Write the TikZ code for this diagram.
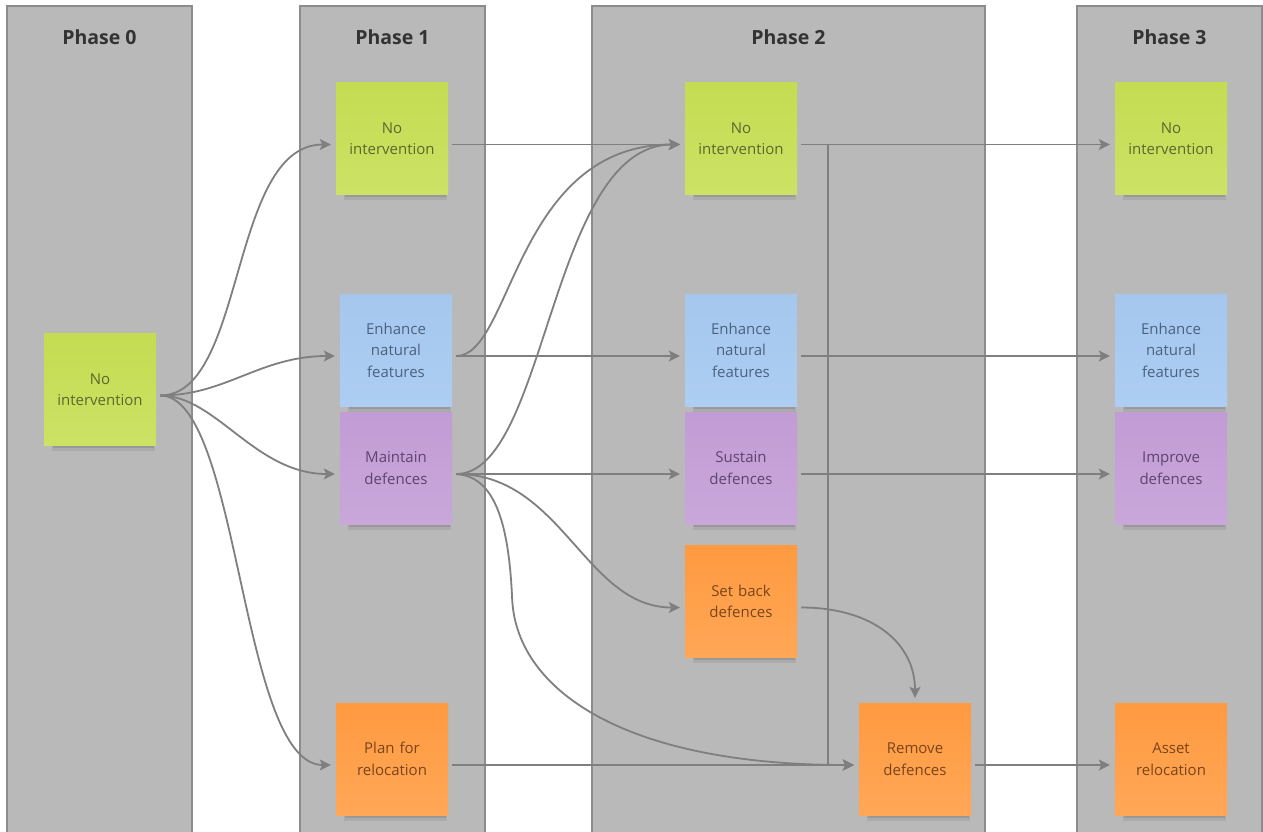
\documentclass[tikz,border=0pt]{standalone}
\usepackage{fontspec}
\setmainfont{Open Sans}
\usetikzlibrary{arrows.meta,shadows}

\definecolor{panelfill}{HTML}{B9B9B9}
\definecolor{paneldraw}{HTML}{8C8C8C}
\definecolor{wire}{HTML}{7F7F7F}
\definecolor{headtext}{HTML}{333333}
\definecolor{limeA}{HTML}{C4DC52}
\definecolor{limeB}{HTML}{CCE265}
\definecolor{limeT}{HTML}{5C672E}
\definecolor{blueA}{HTML}{A5C7EE}
\definecolor{blueB}{HTML}{ADCEF2}
\definecolor{blueT}{HTML}{4A6280}
\definecolor{lilacA}{HTML}{C29CD5}
\definecolor{lilacB}{HTML}{C9A7DA}
\definecolor{lilacT}{HTML}{5E4470}
\definecolor{orangeA}{HTML}{FF9A40}
\definecolor{orangeB}{HTML}{FFA757}
\definecolor{orangeT}{HTML}{7A4519}

\tikzset{
  panel/.style={fill=panelfill, draw=paneldraw, line width=1.6pt},
  phase/.style={font=\bfseries\fontsize{19.5}{22}\selectfont, text=headtext, anchor=base},
  note/.style={minimum width=112pt, minimum height=112pt, inner sep=4pt,
    text width=104pt, align=center, font=\fontsize{15}{21.5}\selectfont,
    general shadow={shadow scale=.92, shadow xshift=4pt, shadow yshift=-11pt, fill=black, opacity=.07},
    general shadow={shadow scale=.90, shadow xshift=4pt, shadow yshift=-9pt, fill=black, opacity=.10},
    general shadow={shadow scale=.88, shadow xshift=4pt, shadow yshift=-8pt, fill=black, opacity=.16}},
  limenote/.style={note, top color=limeA, bottom color=limeB, text=limeT},
  bluenote/.style={note, top color=blueA, bottom color=blueB, text=blueT},
  lilacnote/.style={note, top color=lilacA, bottom color=lilacB, text=lilacT},
  orangenote/.style={note, top color=orangeA, bottom color=orangeB, text=orangeT},
  link/.style={draw=wire, line width=1.8pt,
    -{Stealth[length=11pt,width=11pt,inset=2.5pt]},
    shorten <=4pt, shorten >=5pt},
}

\begin{document}
\begin{tikzpicture}[x=1pt,y=-1pt]
  \useasboundingbox (0,0) rectangle (1263,831);
  \fill[white] (0,0) rectangle (1263,831);

  % phase columns
  \path[panel] (7,6) rectangle (192,845);
  \path[panel] (300,6) rectangle (485,845);
  \path[panel] (592,6) rectangle (985,845);
  \path[panel] (1077,6) rectangle (1262,845);

  \node[phase] (h0) at (99.5,44) {Phase 0};
  \node[phase] (h1) at (392.5,44) {Phase 1};
  \node[phase] (h2) at (788.5,44) {Phase 2};
  \node[phase] (h3) at (1169.5,44) {Phase 3};

  % phase 0
  \node[limenote] (a0) at (100,389.5) {No\\intervention};

  % phase 1
  \node[limenote]   (b1) at (392,138.5) {No\\intervention};
  \node[bluenote]   (b2) at (396,350)   {Enhance\\natural\\features};
  \node[lilacnote]  (b3) at (396,468)   {Maintain\\defences};
  \node[orangenote] (b4) at (392,759)   {Plan for\\relocation};

  % phase 2
  \node[limenote]   (c1) at (741,138.5) {No\\intervention};
  \node[bluenote]   (c2) at (741,350)   {Enhance\\natural\\features};
  \node[lilacnote]  (c3) at (741,468)   {Sustain\\defences};
  \node[orangenote] (c4) at (741,601.5) {Set back\\defences};
  \node[orangenote] (c5) at (915,759)   {Remove\\defences};

  % phase 3
  \node[limenote]   (d1) at (1171,138.5) {No\\intervention};
  \node[bluenote]   (d2) at (1171,350)   {Enhance\\natural\\features};
  \node[lilacnote]  (d3) at (1171,468)   {Improve\\defences};
  \node[orangenote] (d4) at (1171,759)   {Asset\\relocation};

  % phase 0 -> phase 1
  \draw[link] ([yshift=-6pt]a0.east) .. controls +(90,0) and +(-107,0) .. ([yshift=-6pt]b1.west);
  \draw[link] ([yshift=-6pt]a0.east) .. controls +(70,0) and +(-80,0) .. ([yshift=-6pt]b2.west);
  \draw[link] ([yshift=-6pt]a0.east) .. controls +(60,0) and +(-85,0) .. ([yshift=-6pt]b3.west);
  \draw[link] ([yshift=-6pt]a0.east) .. controls +(84,0) and +(-96,0) .. ([yshift=-6pt]b4.west);

  % phase 1 -> phase 2
  \draw[link] ([yshift=-6pt]b1.east) -- ([yshift=-6pt]c1.west);
  \draw[link] ([yshift=-6pt]b2.east) .. controls +(60,0) and +(-170,0) .. ([yshift=-6pt]c1.west);
  \draw[link] ([yshift=-6pt]b2.east) -- ([yshift=-6pt]c2.west);
  \draw[link] ([yshift=-6pt]b3.east) .. controls +(95,0) and +(-135,0) .. ([yshift=-6pt]c1.west);
  \draw[link] ([yshift=-6pt]b3.east) -- ([yshift=-6pt]c3.west);
  \draw[link] ([yshift=-6pt]b3.east) .. controls +(110,0) and +(-100,0) .. ([yshift=-6pt]c4.west);
  \draw[link] ([yshift=-6pt]b3.east) .. controls +(45,2) and +(-3,-70) .. ++(60,126)
              .. controls +(5,90) and +(-235,0) .. ([yshift=-6pt]c5.west);
  \draw[link] ([yshift=-6pt]b4.east) -- ([yshift=-6pt]c5.west);

  % within phase 2
  \draw[link] ([yshift=-6pt]c1.east) -- ++(31,0) |- ([yshift=-6pt]c5.west);
  \draw[link] ([yshift=-6pt]c4.east) .. controls +(75,0) and +(0,-60) .. (c5.north);

  % phase 2 -> phase 3
  \draw[link] ([yshift=-6pt]c1.east) -- ([yshift=-6pt]d1.west);
  \draw[link] ([yshift=-6pt]c2.east) -- ([yshift=-6pt]d2.west);
  \draw[link] ([yshift=-6pt]c3.east) -- ([yshift=-6pt]d3.west);
  \draw[link] ([yshift=-6pt]c5.east) -- ([yshift=-6pt]d4.west);
\end{tikzpicture}
\end{document}
